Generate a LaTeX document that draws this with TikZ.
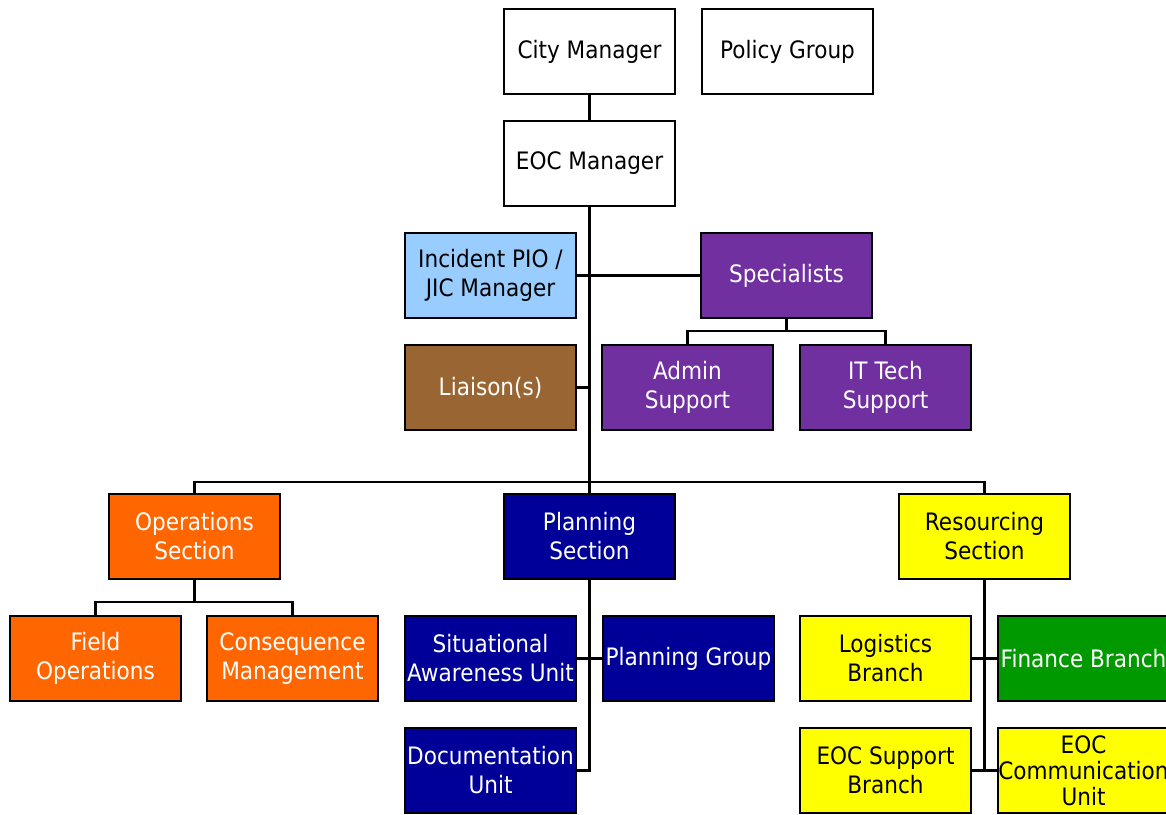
\documentclass[tikz,border=0pt]{standalone}
\usepackage{fontspec}
\setmainfont{DejaVu Sans}[FakeStretch=0.9]
\usepackage{xcolor}
\usetikzlibrary{positioning}
\definecolor{pioblue}{HTML}{99CCFF}
\definecolor{specpurple}{HTML}{7030A0}
\definecolor{liaisonbrown}{HTML}{996633}
\definecolor{opsorange}{HTML}{FF6600}
\definecolor{plannavy}{HTML}{000099}
\definecolor{resyellow}{HTML}{FFFF00}
\definecolor{fingreen}{HTML}{009900}
\tikzstyle{unit} = [rectangle, minimum width=171pt, minimum height=85pt, inner sep=0pt, outer sep=0pt, text centered, align=center, draw=black, line width=2.2pt, font=\fontsize{24}{29}\selectfont]
\tikzstyle{plain} = [unit, fill=white]
\tikzstyle{pio} = [unit, fill=pioblue]
\tikzstyle{spec} = [unit, fill=specpurple, text=white]
\tikzstyle{liaison} = [unit, fill=liaisonbrown, text=white]
\tikzstyle{ops} = [unit, fill=opsorange, text=white]
\tikzstyle{plan} = [unit, fill=plannavy, text=white]
\tikzstyle{res} = [unit, fill=resyellow]
\tikzstyle{fin} = [unit, fill=fingreen, text=white]
\tikzstyle{link} = [line width=2.2pt]
\tikzstyle{trunk} = [line width=3.5pt]

\begin{document}
\begin{tikzpicture}[x=1pt, y=1pt, node distance=27pt]
          \useasboundingbox (-589.5,51.5) rectangle (576.5,-762.5);
          \node (city) [plain] at (0,0) {City Manager};
          \node (policy) [plain, right=of city] {Policy Group};
          \node (eoc) [plain, below=of city] {EOC Manager};
          \node (pio) [pio, below=of eoc, xshift=-99pt] {Incident PIO /\\JIC Manager};
          \node (specialists) [spec, right=125pt of pio] {Specialists};
          \node (liaison) [liaison, below=of pio] {Liaison(s)};
          \node (admin) [spec, below=of specialists, xshift=-99pt] {Admin\\Support};
          \node (ittech) [spec, right=of admin] {IT Tech\\Support};
          \node (planning) [plan, below=64pt of liaison, xshift=99pt] {Planning\\Section};
          \node (operations) [ops, left=224pt of planning] {Operations\\Section};
          \node (resourcing) [res, right=224pt of planning] {Resourcing\\Section};
          \node (field) [ops, below=37pt of operations, xshift=-99pt] {Field\\Operations};
          \node (consequence) [ops, right=26pt of field] {Consequence\\Management};
          \node (situational) [plan, below=37pt of planning, xshift=-99pt] {Situational\\Awareness Unit};
          \node (plangroup) [plan, right=of situational] {Planning Group};
          \node (documentation) [plan, below=of situational] {Documentation\\Unit};
          \node (logistics) [res, below=37pt of resourcing, xshift=-99pt] {Logistics\\Branch};
          \node (finance) [fin, right=of logistics] {Finance Branch};
          \node (eocsupport) [res, below=of logistics] {EOC Support\\Branch};
          \node (comms) [res, right=of eocsupport, font=\fontsize{24}{26}\selectfont] {EOC\\Communication\\Unit};

          \draw [link] (city) -- (eoc);
          \draw [trunk] (eoc) -- (planning);
          \draw [link] (pio) -- (specialists);
          \draw [link] (liaison) -- (liaison -| eoc);
          \draw [link] (specialists.south) -- ++(0,-13pt) -| (admin.north);
          \draw [link] (specialists.south) -- ++(0,-13pt) -| (ittech.north);
          \draw [link] (operations.north) -- ++(0,12pt) -| (resourcing.north);
          \draw [link] (operations.south) -- ++(0,-23pt) -| (field.north);
          \draw [link] (operations.south) -- ++(0,-23pt) -| (consequence.north);
          \draw [link] (situational) -- (plangroup);
          \draw [link] (planning) |- (documentation);
          \draw [link] (logistics) -- (finance);
          \draw [link] (eocsupport) -- (comms);
          \draw [link] (resourcing) |- (eocsupport);
        \end{tikzpicture}
\end{document}
